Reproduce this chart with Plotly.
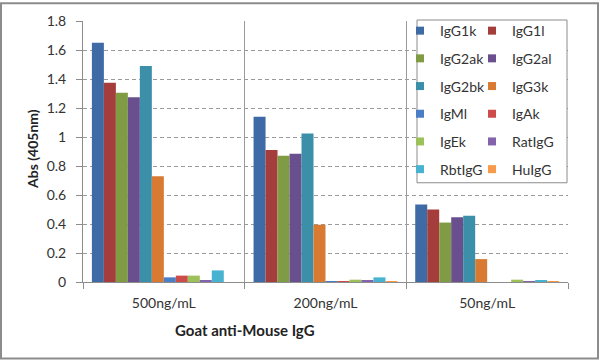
import plotly.graph_objects as go

categories = ["500ng/mL", "200ng/mL", "50ng/mL"]
series_names = ["IgG1k", "IgG1l", "IgG2ak", "IgG2al", "IgG2bk", "IgG3k",
                "IgMl", "IgAk", "IgEk", "RatIgG", "RbtIgG", "HuIgG"]
IgG1k = [1.65, 1.14, 0.535]
IgG1l = [1.375, 0.91, 0.50]
IgG2ak = [1.305, 0.87, 0.41]
IgG2al = [1.275, 0.885, 0.446]
IgG2bk = [1.49, 1.025, 0.457]
IgG3k = [0.73, 0.395, 0.158]
IgMl = [0.032, 0.005, 0.0]
IgAk = [0.044, 0.006, 0.0]
IgEk = [0.044, 0.016, 0.016]
RatIgG = [0.01, 0.007, 0.005]
RbtIgG = [0.08, 0.032, 0.008]
HuIgG = [0.0, 0.002, 0.006]
values = [IgG1k, IgG1l, IgG2ak, IgG2al, IgG2bk, IgG3k, IgMl, IgAk, IgEk, RatIgG, RbtIgG, HuIgG]
colors = ["#3E6BA6", "#A43D3B", "#7F9C45", "#6A4F8E", "#3B8FA8", "#D97A32",
          "#4A7EC6", "#CD4C49", "#9BC158", "#8463AD", "#47B3D0", "#F79A4A"]
y_ticks = [0, 0.2, 0.4, 0.6, 0.8, 1, 1.2, 1.4, 1.6, 1.8]

W, H = 599, 360
L, R, T, B = 83, 31, 19, 78
pw, ph = W - L - R, H - T - B

def px_x(p):
    return (p - L) / pw

def px_y(p):
    return (H - B - p) / ph

FONT = "Lato"
fig = go.Figure()
for i, (name, vals, col) in enumerate(zip(series_names, values, colors)):
    fig.add_trace(go.Bar(
        x=categories, y=vals, name=name, marker=dict(color=col, line=dict(width=0)),
        legendgroup=name, showlegend=False,
    ))
# legend entries (small square swatches, two columns)
for i, (name, col) in enumerate(zip(series_names, colors)):
    fig.add_trace(go.Scatter(
        x=[None], y=[None], mode="markers", name=name, legendgroup=name,
        marker=dict(symbol="square", size=8, color=col),
        legend="legend" if i % 2 == 0 else "legend2", showlegend=True,
    ))

# outer frame
fig.add_shape(type="rect", xref="paper", yref="paper",
              x0=px_x(1), x1=px_x(W - 1), y0=px_y(H - 1), y1=px_y(1),
              line=dict(color="#8c8c8c", width=2), fillcolor="rgba(0,0,0,0)", layer="above")
# legend box
fig.add_shape(type="rect", xref="paper", yref="paper",
              x0=px_x(417), x1=px_x(567), y0=px_y(182), y1=px_y(18),
              line=dict(color="#8c8c8c", width=1), fillcolor="white", layer="above")

fig.add_annotation(text="<b>Goat anti-Mouse IgG</b>", xref="paper", yref="paper",
                   x=px_x(245), y=px_y(330), xanchor="center", yanchor="middle",
                   showarrow=False, font=dict(family=FONT, size=15, color="#222"))
fig.add_annotation(text="<b>Abs (405nm)</b>", xref="paper", yref="paper",
                   x=px_x(32), y=px_y(148), xanchor="center", yanchor="middle",
                   showarrow=False, textangle=-90,
                   font=dict(family=FONT, size=14, color="#222"))

leg_common = dict(font=dict(family=FONT, size=14, color="#333"), bgcolor="rgba(0,0,0,0)",
                  borderwidth=0, orientation="v", tracegroupgap=6.5,
                  xanchor="left", yanchor="top", xref="paper", yref="paper")
fig.update_layout(
    width=W, height=H, margin=dict(l=L, r=R, t=T, b=B),
    paper_bgcolor="white", plot_bgcolor="white",
    barmode="group", bargap=0.11, bargroupgap=0,
    font=dict(family=FONT, size=14, color="#333"),
    showlegend=True,
    legend=dict(x=px_x(400), y=px_y(13), **leg_common),
    legend2=dict(x=px_x(472), y=px_y(13), **leg_common),
    xaxis=dict(tickson="boundaries", ticks="outside", ticklen=6, tickcolor="#8c8c8c",
               showgrid=True, gridcolor="#9a9a9a", gridwidth=1,
               showline=True, linecolor="#8c8c8c", linewidth=1,
               ticklabelstandoff=8,
               tickfont=dict(family=FONT, size=14, color="#333")),
    yaxis=dict(range=[0, 1.8], tickvals=y_ticks, ticktext=[f"{v:g}" for v in y_ticks],
               ticks="outside", ticklen=6, tickcolor="#8c8c8c",
               showgrid=True, gridcolor="#9a9a9a", griddash="4px,3px", gridwidth=1,
               showline=True, linecolor="#8c8c8c", linewidth=1, zeroline=False,
               ticklabelstandoff=7,
               tickfont=dict(family=FONT, size=14, color="#333")),
)
fig.write_html("out.html", config={"displayModeBar": False},
               post_script="document.body.style.margin='0';")
